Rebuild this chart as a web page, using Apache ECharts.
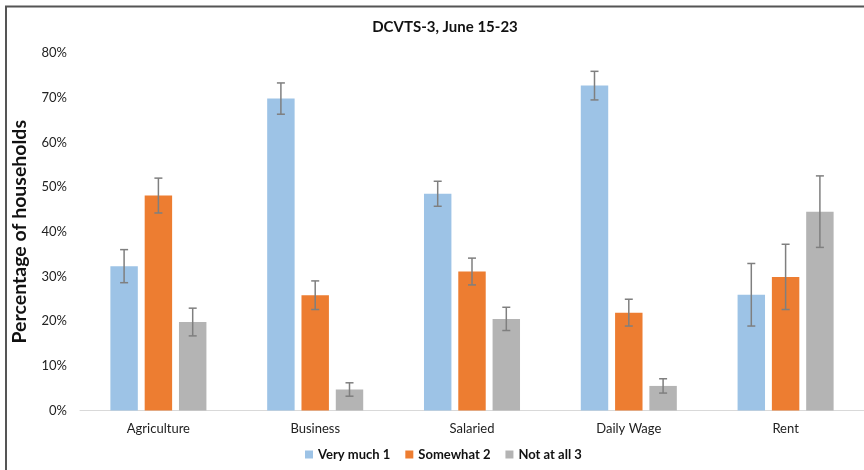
<!DOCTYPE html>
<html>
<head>
<meta charset="utf-8">
<script src="https://cdn.jsdelivr.net/npm/echarts@6/dist/echarts.min.js"></script>
<style>
  html, body { margin: 0; padding: 0; background: #ffffff; }
  #chart { width: 864px; height: 470px; }
</style>
</head>
<body>
<div id="chart"></div>
<script>
// Share of households by main income source (percent)
var categories = ['Agriculture', 'Business', 'Salaried', 'Daily Wage', 'Rent'];
var seriesNames = ['Very much 1', 'Somewhat 2', 'Not at all 3'];
var veryMuch  = [32.3, 69.8, 48.5, 72.7, 25.9];
var somewhat  = [48.1, 25.8, 31.1, 21.9, 29.9];
var notAtAll  = [19.8, 4.7, 20.5, 5.5, 44.5];
// Half-widths of the error bars (percentage points)
var veryMuchErr = [3.7, 3.5, 2.8, 3.2, 7.0];
var somewhatErr = [3.9, 3.2, 3.0, 3.0, 7.3];
var notAtAllErr = [3.1, 1.5, 2.6, 1.6, 8.0];
var yTicks = [0, 10, 20, 30, 40, 50, 60, 70, 80];

var colors = ['#9DC3E6', '#ED7D31', '#B4B4B4'];
var values = [veryMuch, somewhat, notAtAll];
var errors = [veryMuchErr, somewhatErr, notAtAllErr];

var FONT = 'Lato';
var BAR_RATIO = 0.175;  // bar width as a share of the category band
var GAP_RATIO = 0.25;   // gap between bars as a share of bar width

function errorSeries(idx) {
  var data = categories.map(function (c, i) {
    return [i, values[idx][i] - errors[idx][i], values[idx][i] + errors[idx][i]];
  });
  return {
    type: 'custom',
    name: seriesNames[idx] + ' error',
    z: 10,
    silent: true,
    data: data,
    encode: { x: 0, y: [1, 2] },
    renderItem: function (params, api) {
      var band = api.size([1, 0])[0];
      var w = band * BAR_RATIO;
      var step = w * (1 + GAP_RATIO);
      var total = w * 3 + w * GAP_RATIO * 2;
      var offset = -total / 2 + idx * step + w / 2;
      var lo = api.coord([api.value(0), api.value(1)]);
      var hi = api.coord([api.value(0), api.value(2)]);
      var x = lo[0] + offset;
      var cap = 4;
      var style = { stroke: '#7F7F7F', lineWidth: 1.5 };
      return {
        type: 'group',
        children: [
          { type: 'line', shape: { x1: x, y1: hi[1], x2: x, y2: lo[1] }, style: style },
          { type: 'line', shape: { x1: x - cap, y1: hi[1], x2: x + cap, y2: hi[1] }, style: style },
          { type: 'line', shape: { x1: x - cap, y1: lo[1], x2: x + cap, y2: lo[1] }, style: style }
        ]
      };
    }
  };
}

var barSeries = seriesNames.map(function (name, idx) {
  return {
    type: 'bar',
    name: name,
    data: values[idx],
    barWidth: (BAR_RATIO * 100) + '%',
    barGap: (GAP_RATIO * 100) + '%',
    itemStyle: { color: colors[idx] }
  };
});

var chart = echarts.init(document.getElementById('chart'), null, { renderer: 'canvas' });
chart.setOption({
  animation: false,
  backgroundColor: '#ffffff',
  color: colors,
  title: {
    text: 'DCVTS-3, June 15-23',
    left: 440,
    top: 15,
    textAlign: 'center',
    textStyle: { fontFamily: FONT, fontWeight: 'bold', fontSize: 15, color: '#111111' }
  },
  legend: {
    data: seriesNames,
    bottom: 4,
    left: 300,
    itemWidth: 8,
    itemHeight: 8,
    itemGap: 15,
    icon: 'rect',
    textStyle: { fontFamily: FONT, fontWeight: 'bold', fontSize: 13, color: '#111111' }
  },
  grid: { left: 80, right: -10, top: 53, bottom: 59.5 },
  xAxis: {
    type: 'category',
    data: categories,
    axisLine: { lineStyle: { color: '#D9D9D9', width: 1 } },
    axisTick: { show: false },
    axisLabel: { fontFamily: FONT, fontSize: 13, color: '#222222', margin: 12 }
  },
  yAxis: {
    type: 'value',
    min: yTicks[0],
    max: yTicks[yTicks.length - 1],
    interval: yTicks[1] - yTicks[0],
    name: 'Percentage of households',
    nameLocation: 'middle',
    nameGap: 50,
    nameTextStyle: { fontFamily: FONT, fontWeight: 'bold', fontSize: 19.5, color: '#111111' },
    axisLine: { show: false },
    axisTick: { show: false },
    splitLine: { show: false },
    axisLabel: { fontFamily: FONT, fontSize: 13, color: '#222222', margin: 13, formatter: '{value}%' }
  },
  graphic: [{
    type: 'rect',
    silent: true,
    z: 100,
    shape: { x: 6, y: 6.5, width: 900, height: 500 },
    style: { fill: null, stroke: '#555555', lineWidth: 2 }
  }],
  series: barSeries.concat([errorSeries(0), errorSeries(1), errorSeries(2)])
});
</script>
</body>
</html>
